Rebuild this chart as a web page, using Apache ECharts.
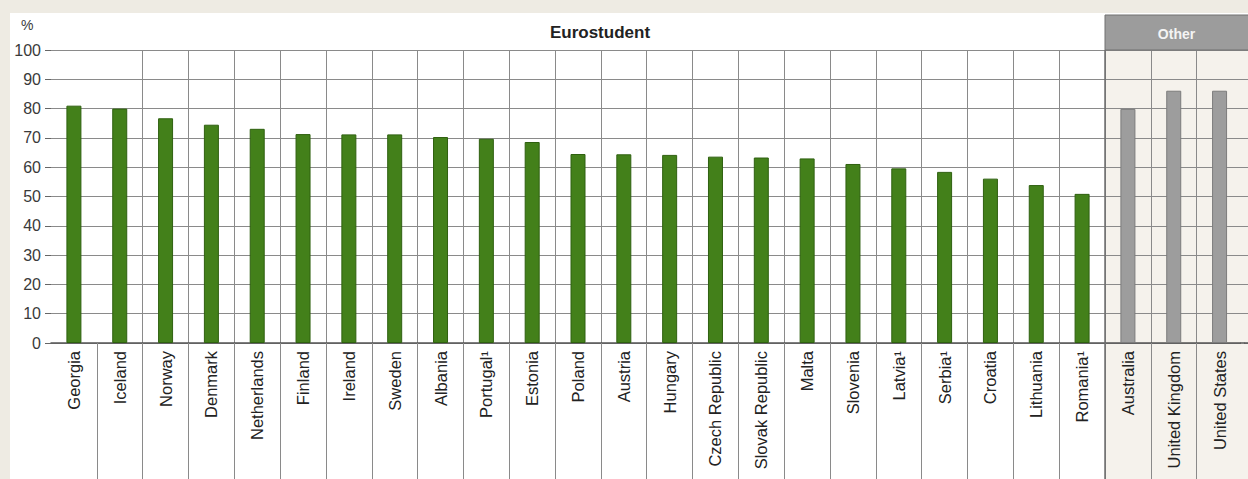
<!DOCTYPE html>
<html><head><meta charset="utf-8">
<script src="https://cdn.jsdelivr.net/npm/echarts@6/dist/echarts.min.js"></script>
<style>html,body{margin:0;padding:0;background:#eeebe3}#c{width:1248px;height:479px}</style>
</head><body><div id="c"></div>
<script>
const categories = ['Georgia','Iceland','Norway','Denmark','Netherlands','Finland','Ireland','Sweden','Albania','Portugal¹','Estonia','Poland','Austria','Hungary','Czech Republic','Slovak Republic','Malta','Slovenia','Latvia¹','Serbia¹','Croatia','Lithuania','Romania¹','Australia','United Kingdom','United States'];
const eurostudentValues = [81.0,80.0,76.7,74.5,73.1,71.3,71.2,71.2,70.3,69.7,68.6,64.5,64.4,64.2,63.6,63.3,63.0,61.1,59.6,58.4,56.1,53.9,50.9,null,null,null];
const otherValues = [null,null,null,null,null,null,null,null,null,null,null,null,null,null,null,null,null,null,null,null,null,null,null,79.9,86.1,86.1];
const yMin = 0, yMax = 100, yStep = 10;
const groupNames = ['Eurostudent','Other'];
const firstOther = 'Australia';

const W = 1248, H = 479;
const LEFT = 51, TARGET_BAND = 1054 / 23;
const chart = echarts.init(document.getElementById('c'), null, {renderer:'svg'});
const gridColor = '#8a8a8a';
const otherBg = '#f5f2ec';
const font = '"Liberation Sans", Arial, sans-serif';
const n = categories.length;
const keep = function(i){ return i > 0 && i < n; };
function build(rightPx){
  return {
    backgroundColor: '#eeebe3',
    animation: false,
    grid: {left: LEFT, right: rightPx, top: 50, bottom: 136, outerBoundsMode: 'none', containLabel: false},
    xAxis: {
      type: 'category', data: categories, boundaryGap: true,
      max: n,
      axisLine: {show: true, lineStyle: {color: '#555', width: 1.5}},
      axisTick: {show: true, length: 136, lineStyle: {color: gridColor}, interval: keep},
      axisLabel: {interval: 0, rotate: 90, fontSize: 16.5, color: '#222', margin: 8, fontFamily: font,
        formatter: function(v){ return categories.indexOf(v) >= 0 ? v : ''; }},
      splitLine: {show: true, showMinLine: false, showMaxLine: false, lineStyle: {color: gridColor}, interval: keep}
    },
    yAxis: {
      type: 'value', min: yMin, max: yMax, interval: yStep,
      axisLine: {show: false},
      axisTick: {show: true, length: 6, lineStyle: {color: '#666'}},
      axisLabel: {fontSize: 16, color: '#3a3a3a', margin: 10, fontFamily: font},
      splitLine: {show: true, lineStyle: {color: gridColor}}
    },
    series: [
      {type: 'bar', data: eurostudentValues, barWidth: 15, barGap: '-100%',
       itemStyle: {color: '#43801a', borderColor: '#2f6010', borderWidth: 1}},
      {type: 'bar', data: otherValues, barWidth: 15,
       itemStyle: {color: '#9d9d9d', borderColor: '#7c7c7c', borderWidth: 1}}
    ]
  };
}
// first pass: find how many bands the axis uses, then size the grid for the target band width
const right0 = -40;
chart.setOption(build(right0));
const b0 = chart.convertToPixel({xAxisIndex: 0}, categories[1]) - chart.convertToPixel({xAxisIndex: 0}, categories[0]);
const nBands = Math.round(chart.getModel().getComponent('grid', 0).coordinateSystem.getRect().width / b0);
const right1 = W - LEFT - nBands * TARGET_BAND;
chart.setOption(build(right1));

// same sub-pixel snapping that the axis uses for its 1px rules
function snap(p, lw){
  const d = Math.round(p * 2);
  return (d + Math.round(lw)) % 2 === 0 ? d / 2 : (d + 1) / 2;
}

// decorations placed from the axis scales
const xFirst = chart.convertToPixel({xAxisIndex: 0}, categories[0]);
const xNext = chart.convertToPixel({xAxisIndex: 0}, categories[1]);
const band = xNext - xFirst;
const leftEdge = xFirst - band / 2;
const otherStart = chart.convertToPixel({xAxisIndex: 0}, firstOther) - band / 2;
const lastEdge = chart.convertToPixel({xAxisIndex: 0}, categories[n - 1]) + band / 2;
const yTop = chart.convertToPixel({yAxisIndex: 0}, yMax);
const elements = [
  {type: 'rect', z: -100, silent: true, shape: {x: 10, y: 13, width: W - 10, height: H - 13}, style: {fill: '#ffffff'}},
  {type: 'rect', z: -90, silent: true, shape: {x: otherStart, y: yTop, width: W - otherStart, height: H - yTop}, style: {fill: otherBg}},
  // the reference is cropped inside the last column: no closing rule after the last category
  {type: 'rect', z: 5, silent: true, shape: {x: lastEdge - 1.5, y: yTop + 1, width: 3, height: H - yTop}, style: {fill: otherBg}},
  {type: 'rect', z: 10, silent: true, shape: {x: otherStart, y: 15, width: W - otherStart + 2, height: yTop - 15}, style: {fill: '#9c9c9c', stroke: '#707070', lineWidth: 1}},
  {type: 'text', z: 11, silent: true, style: {x: (otherStart + W) / 2, y: (15 + yTop) / 2 + 1, text: groupNames[1], fill: '#f4f4f4', font: 'bold 14px ' + font, align: 'center', verticalAlign: 'middle'}},
  {type: 'text', z: 11, silent: true, style: {x: (leftEdge + otherStart) / 2 + 22, y: (13 + yTop) / 2 + 1, text: groupNames[0], fill: '#222', font: 'bold 17px ' + font, align: 'center', verticalAlign: 'middle'}},
  {type: 'text', z: 11, silent: true, style: {x: 21, y: 25, text: '%', fill: '#3a3a3a', font: '14px ' + font, align: 'left', verticalAlign: 'middle'}},
  {type: 'line', z: 11, silent: true, shape: {x1: otherStart, y1: yTop, x2: otherStart, y2: H}, style: {stroke: '#6e6e6e', lineWidth: 1.5}}
];
// restore the horizontal rules across the covered strip, at the y axis ticks
for (let v = yMin + yStep; v <= yMax; v += yStep) {
  const y = snap(chart.convertToPixel({yAxisIndex: 0}, v), 1);
  elements.push({type: 'line', z: 6, silent: true, shape: {x1: lastEdge - 2, y1: y, x2: lastEdge + 2, y2: y},
    style: {stroke: gridColor, lineWidth: 1}});
}
const yZero = chart.convertToPixel({yAxisIndex: 0}, yMin);
elements.push({type: 'line', z: 6, silent: true, shape: {x1: lastEdge - 2, y1: yZero, x2: lastEdge + 2, y2: yZero},
  style: {stroke: '#555', lineWidth: 1.5}});
chart.setOption({graphic: elements});
</script></body></html>
